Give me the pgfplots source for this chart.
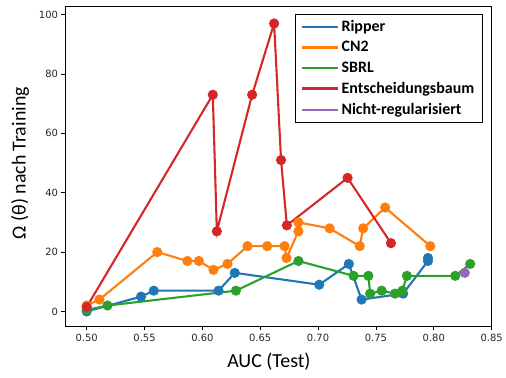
\documentclass[border=0pt]{standalone}
\usepackage{pgfplots}
\pgfplotsset{compat=1.18}
\usepackage{fontspec}
\setmainfont{Carlito}
\newfontfamily\dejavu{DejaVu Sans}
\definecolor{tabblue}{HTML}{1F77B4}
\definecolor{taborange}{HTML}{FF7F0E}
\definecolor{tabgreen}{HTML}{2CA02C}
\definecolor{tabred}{HTML}{D62728}
\definecolor{tabpurple}{HTML}{9467BD}
\pgfplotsset{
  myplot/.style={color=#1, line width=2.1pt, mark=*, mark size=4pt, mark options={draw=none, fill=#1}},
}
\begin{document}
\begin{tikzpicture}
\begin{axis}[
  scale only axis,
  width=427bp, height=321bp,
  xmin=0.4812, xmax=0.850,
  ymin=-5.15, ymax=102.9,
  xtick={0.50,0.55,0.60,0.65,0.70,0.75,0.80,0.85},
  ytick={0,20,40,60,80,100},
  xticklabel style={/pgf/number format/.cd, fixed, fixed zerofill, precision=2},
  /pgf/number format/assume math mode=true,
  tick label style={font=\dejavu\fontsize{10}{12}\selectfont, text=black!85},
  tick align=outside, tick pos=left,
  major tick length=3.5bp,
  axis line style={black, line width=0.8pt},
  every tick/.style={black, line width=0.8pt},
  xlabel={AUC (Test)},
  ylabel={Ω (θ) nach Training},
  xlabel style={font=\fontsize{20}{24}\selectfont, at={(axis description cs:0.478,0)}, anchor=base, yshift=-41bp},
  ylabel style={font=\fontsize{20}{24}\selectfont, at={(axis description cs:-0.105,0.51)}, anchor=center, rotate=0},
  legend style={at={(rel axis cs:1,1)}, anchor=north east, xshift=-9bp, yshift=-8bp,
    font=\bfseries\fontsize{16}{19}\selectfont, draw=black, line width=0.8pt,
    inner xsep=6bp, inner ysep=4bp, row sep=4.5bp, legend cell align=left},
  legend image code/.code={\draw[#1, line width=2.4pt] (0bp,0bp) -- (36bp,0bp);},
]
\addplot[myplot=tabblue] coordinates {
(0.500,0)(0.547,5)(0.558,7)(0.614,7)(0.628,13)(0.701,9)(0.7266,16)(0.7376,4)(0.7735,6)(0.795,17)(0.795,18)};
\addlegendentry{Ripper}
\addplot[myplot=taborange] coordinates {
(0.500,2)(0.511,4)(0.561,20)(0.587,17)(0.597,17)(0.6096,14)(0.6217,16)(0.639,22)(0.656,22)(0.671,22)(0.6727,18)(0.683,27)(0.683,30)(0.710,28)(0.736,22)(0.739,28)(0.758,35)(0.797,22)};
\addlegendentry{CN2}
\addplot[myplot=tabgreen] coordinates {
(0.500,0.5)(0.518,2)(0.629,7)(0.683,17)(0.7307,12)(0.7435,12)(0.745,6)(0.755,7)(0.7665,6)(0.7728,7)(0.7768,12)(0.8186,12)(0.8315,16)};
\addlegendentry{SBRL}
\addplot[myplot=tabred] coordinates {
(0.500,1.5)(0.609,73)(0.6125,27)(0.643,73)(0.662,97)(0.668,51)(0.673,29)(0.7255,45)(0.763,23)};
\addlegendentry{Entscheidungsbaum}
\addplot[myplot=tabpurple] coordinates {
(0.8268,13)};
\addlegendentry{Nicht-regularisiert}
\end{axis}
\path (current axis.south west) ++(-65bp,-51bp) rectangle ++(506bp,378bp);
\end{tikzpicture}
\end{document}
